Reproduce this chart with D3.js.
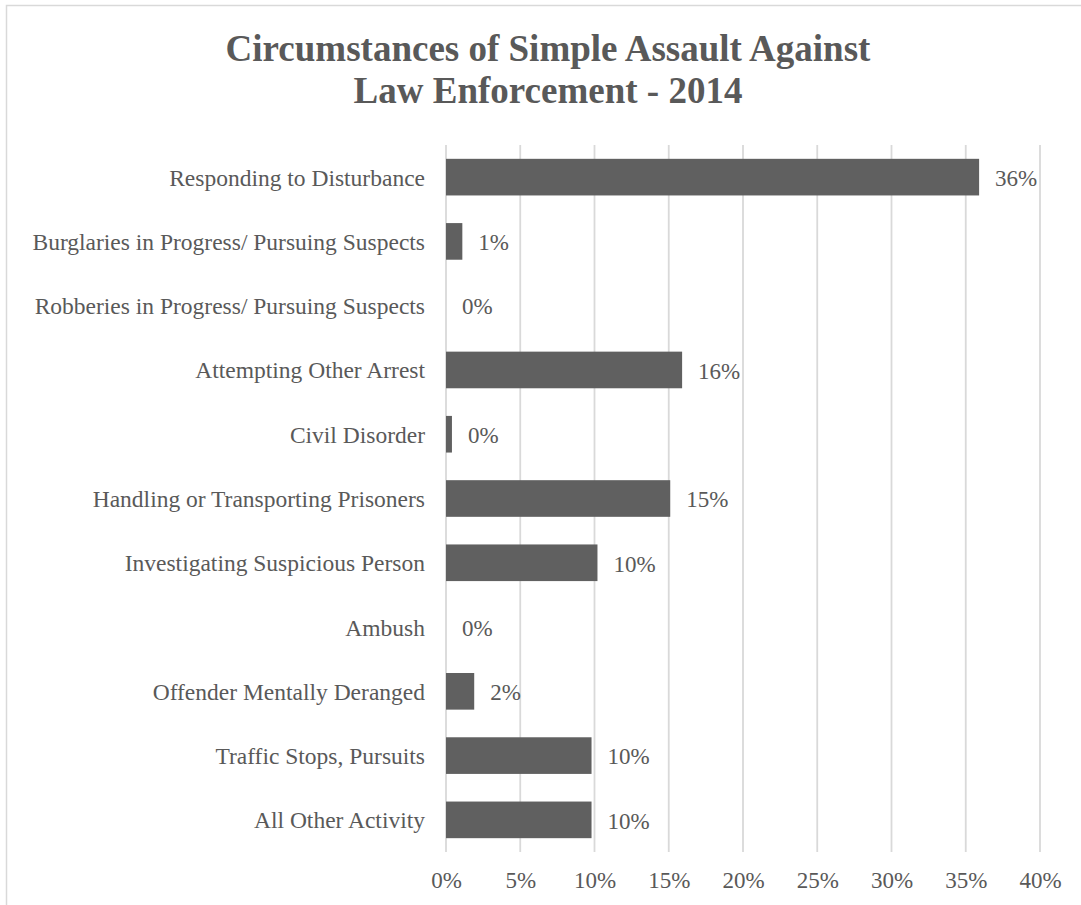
<!DOCTYPE html>
<html>
<head>
<meta charset="utf-8">
<script src="https://cdn.jsdelivr.net/npm/d3@7"></script>
<style>
  html, body { margin: 0; padding: 0; background: #ffffff; }
  svg { display: block; }
  text { font-family: "Liberation Serif", "Times New Roman", serif; fill: #595959; }
</style>
</head>
<body>
<div id="chart"></div>
<script>
// Circumstance categories, top to bottom
const categories = [
  "Responding to Disturbance",
  "Burglaries in Progress/ Pursuing Suspects",
  "Robberies in Progress/ Pursuing Suspects",
  "Attempting Other Arrest",
  "Civil Disorder",
  "Handling or Transporting Prisoners",
  "Investigating Suspicious Person",
  "Ambush",
  "Offender Mentally Deranged",
  "Traffic Stops, Pursuits",
  "All Other Activity"
];

// Share of simple assaults (fraction of total)
const shares = [0.359, 0.011, 0, 0.159, 0.004, 0.151, 0.102, 0, 0.019, 0.098, 0.098];

// X-axis tick values
const xTicks = [0, 0.05, 0.10, 0.15, 0.20, 0.25, 0.30, 0.35, 0.40];

const titleLines = ["Circumstances of Simple Assault Against", "Law Enforcement - 2014"];

const W = 1081, H = 905;
const plot = { left: 446, right: 1040, top: 145, bottom: 852 };
const pct = d3.format(".0%");

const svg = d3.select("#chart").append("svg")
  .attr("width", W).attr("height", H);

svg.append("rect").attr("width", W).attr("height", H).attr("fill", "#ffffff");

// chart frame
svg.append("rect")
  .attr("x", 6.5).attr("y", 5.5)
  .attr("width", W + 20).attr("height", H + 20)
  .attr("fill", "none").attr("stroke", "#d9d9d9").attr("stroke-width", 1.5);

// title
svg.append("text")
  .attr("x", 548).attr("y", 61)
  .attr("text-anchor", "middle")
  .style("font-size", "37px").style("font-weight", "bold")
  .selectAll("tspan").data(titleLines).join("tspan")
  .attr("x", 548).attr("dy", (d, i) => i === 0 ? 0 : 42)
  .text(d => d);

const x = d3.scaleLinear().domain([0, 0.40]).range([plot.left, plot.right]);
const y = d3.scaleBand().domain(categories)
  .range([plot.top, plot.bottom])
  .paddingInner(0.43).paddingOuter(0.215);

// vertical gridlines
svg.append("g")
  .selectAll("line").data(xTicks).join("line")
  .attr("x1", d => x(d)).attr("x2", d => x(d))
  .attr("y1", plot.top).attr("y2", plot.bottom)
  .attr("stroke", "#d9d9d9").attr("stroke-width", 1.8);

// x axis tick labels
const xAxis = d3.axisBottom(x).tickValues(xTicks).tickFormat(pct).tickSize(0).tickPadding(0);
const gx = svg.append("g")
  .attr("transform", `translate(0,${plot.bottom})`)
  .call(xAxis);
gx.select(".domain").remove();
gx.selectAll("text")
  .attr("y", 36).attr("dy", 0)
  .style("font-size", "23px").style("font-family", null).attr("fill", "#595959");

// category labels
const yAxis = d3.axisLeft(y).tickSize(0).tickPadding(0);
const gy = svg.append("g")
  .attr("transform", `translate(425,0)`)
  .call(yAxis);
gy.select(".domain").remove();
gy.selectAll("text")
  .attr("x", 0).attr("dy", "0.36em")
  .style("font-size", "23.5px").style("font-family", null).attr("fill", "#595959");

// bars
svg.append("g")
  .selectAll("rect").data(shares).join("rect")
  .attr("x", x(0))
  .attr("y", (d, i) => y(categories[i]))
  .attr("width", d => x(d) - x(0))
  .attr("height", y.bandwidth())
  .attr("fill", "#606060");

// value labels
svg.append("g")
  .selectAll("text").data(shares).join("text")
  .attr("x", d => x(d) + 16)
  .attr("y", (d, i) => y(categories[i]) + y.bandwidth() / 2)
  .attr("dy", "0.38em")
  .style("font-size", "23px")
  .text(d => pct(d));
</script>
</body>
</html>
